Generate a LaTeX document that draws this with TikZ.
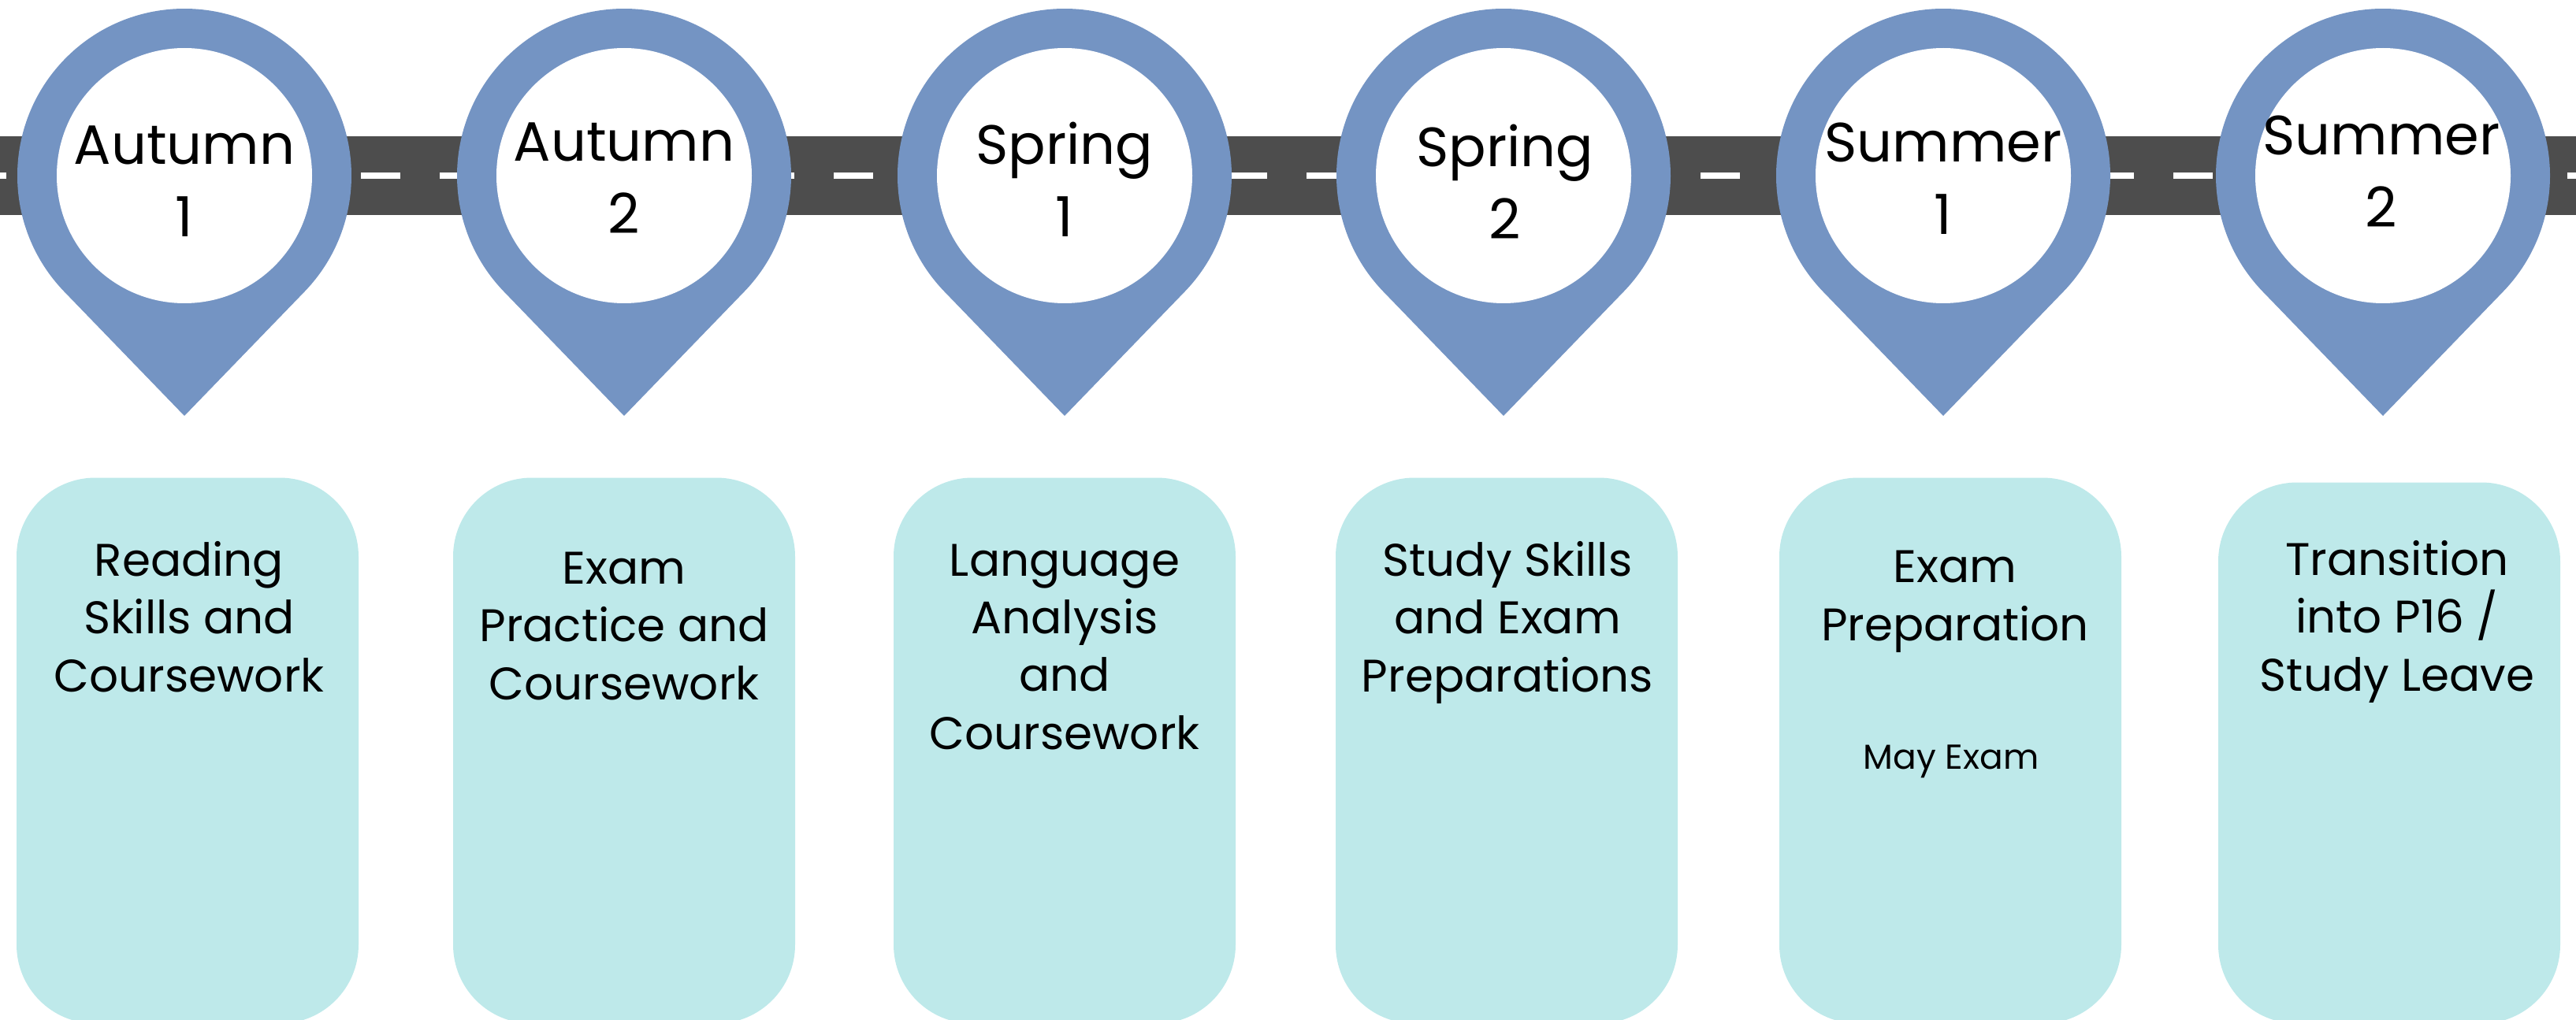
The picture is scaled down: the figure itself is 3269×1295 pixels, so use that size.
\documentclass[tikz,border=0pt]{standalone}
\usepackage{fontspec}
\setmainfont{Poppins}
\usetikzlibrary{positioning}
\definecolor{pinblue}{HTML}{7494C3}
\definecolor{roadgrey}{HTML}{4D4D4D}
\definecolor{termcyan}{HTML}{BEE9EA}
\tikzset{
	monthpin/.pic={
		\fill[pinblue] (0,305) -- (44:212) arc[start angle=44, end angle=-224, radius=212] -- cycle;
		\fill[white] (0,0) circle[radius=162];
	},
	pinlabel/.style={anchor=base, align=center, inner sep=0pt, font=\fontsize{20}{26.2}\selectfont},
	termbox/.style={fill=termcyan, rounded corners=10mm, minimum width=43.4mm, minimum height=69.3mm, inner sep=0pt},
	termtext/.style={anchor=base, align=center, inner sep=0pt, font=\fontsize{16.5}{20.8}\selectfont},
	smalltext/.style={anchor=base, align=center, inner sep=0pt, font=\fontsize{12.5}{16}\selectfont}
}

\begin{document}
\begin{tikzpicture}[x=0.1mm, y=-0.1mm]
		\clip (0,0) rectangle (3269,1295);
		% road
		\fill[roadgrey] (0,173) rectangle (3269,273);
		\draw[white, line width=0.8mm, dash pattern=on 5mm off 5mm] (-42,223) -- (3300,223);
		% pins (base = last line)
		\pic at (234,223) {monthpin};
		\pic at (792,223) {monthpin};
		\pic at (1351,223) {monthpin};
		\pic at (1908,223) {monthpin};
		\pic at (2466,223) {monthpin};
		\pic at (3024,223) {monthpin};
		\node[pinlabel] (aut1) at (234,301) {Autumn\\1};
		\node[pinlabel] (aut2) at (792,297) {Autumn\\2};
		\node[pinlabel] (spr1) at (1351,301) {Spring\\1};
		\node[pinlabel] (spr2) at (1910,304) {Spring\\2};
		\node[pinlabel] (sum1) at (2466,298) {Summer\\1};
		\node[pinlabel] (sum2) at (3022,289) {Summer\\2};
		% term boxes
		\node[termbox] (box1) at (238,953) {};
		\node[termbox] (box2) at (792,953) {};
		\node[termbox] (box3) at (1351,953) {};
		\node[termbox] (box4) at (1912,953) {};
		\node[termbox] (box5) at (2475,953) {};
		\node[termbox, minimum height=68.7mm] (box6) at (3032,956) {};
		\node[termtext] (read) at (240,878) {Reading\\Skills and\\Coursework};
		\node[termtext] (exprac) at (792,888) {Exam\\Practice and\\Coursework};
		\node[termtext] (lang) at (1351,951) {Language\\Analysis\\and\\Coursework};
		\node[termtext] (study) at (1913,878) {Study Skills\\and Exam\\Preparations};
		\node[termtext] (exprep) at (2481,813) {Exam\\Preparation};
		\node[smalltext] (may) at (2476,976) {May Exam};
		\node[termtext] (trans) at (3042,877) {Transition\\into P16 /\\Study Leave};
\end{tikzpicture}
\end{document}
